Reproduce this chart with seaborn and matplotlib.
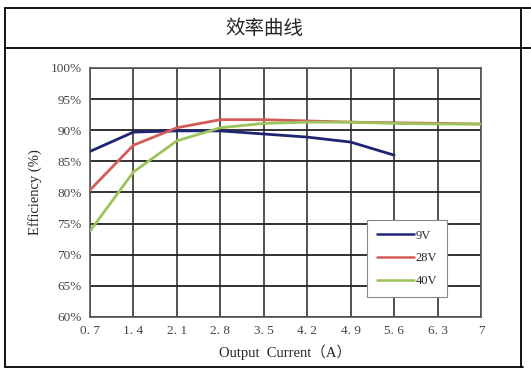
import numpy as np
import pandas as pd
import seaborn as sns
import matplotlib.pyplot as plt
from matplotlib.lines import Line2D

# values
current = [0.7, 1.4, 2.1, 2.8, 3.5, 4.2, 4.9, 5.6, 6.3, 7.0]
eff_9v = [86.6, 89.7, 89.9, 89.9, 89.4, 88.9, 88.1, 86.0]
eff_28v = [80.4, 87.6, 90.4, 91.7, 91.7, 91.5, 91.3, 91.2, 91.1, 91.0]
eff_40v = [73.8, 83.3, 88.3, 90.4, 91.1, 91.3, 91.3, 91.1, 91.0, 91.0]
series = ["9V", "28V", "40V"]
colors = ["#1e2673", "#d45c58", "#9cc35c"]
x_labels = ["0. 7", "1. 4", "2. 1", "2. 8", "3. 5", "4. 2", "4. 9", "5. 6", "6. 3", "7"]
y_ticks = [60, 65, 70, 75, 80, 85, 90, 95, 100]

rows = []
for name, vals in zip(series, [eff_9v, eff_28v, eff_40v]):
    for c, v in zip(current, vals):
        rows.append({"current": c, "eff": v, "series": name})
df = pd.DataFrame(rows)

sns.set_style("white")
plt.rcParams['font.family'] = ['Liberation Serif', 'Noto Sans CJK SC', 'DejaVu Sans']

fig = plt.figure(figsize=(5.31, 3.72), dpi=100)
W, H = 531, 372
ax = fig.add_axes([90 / W, 1 - 317 / H, (481 - 90) / W, (317 - 68) / H])

# grid first so the curves sit on top
for t in current:
    ax.axvline(t, color="#222222", lw=1.1, zorder=1)
for t in y_ticks:
    ax.axhline(t, color="#222222", lw=1.3, zorder=1)

sns.lineplot(data=df, x="current", y="eff", hue="series", hue_order=series,
             palette=colors, lw=2, ax=ax, zorder=3)

ax.set_xlim(0.7, 7.0)
ax.set_ylim(60, 100)
ax.set_xticks(current)
ax.set_xticklabels(x_labels)
ax.set_yticks(y_ticks)
ax.set_yticklabels([f"{t}%" for t in y_ticks])
ax.tick_params(axis="both", length=0, labelsize=9.5, colors="#444444", pad=6)
for s in ax.spines.values():
    s.set_color("#555555")
    s.set_linewidth(1.2)
ax.set_xlabel("Output  Current\uff08A\uff09", fontsize=10.5, labelpad=5)
ax.set_ylabel("Efficiency (%)", fontsize=10.5, labelpad=6)

leg = ax.legend(loc="lower right", bbox_to_anchor=((447 - 90) / (481 - 90), (317 - 297) / (317 - 68)),
                borderaxespad=0, frameon=True, fancybox=False, fontsize=9,
                handlelength=3.0, labelspacing=0.85, borderpad=0.8,
                handletextpad=0.1, title=None)
leg.get_frame().set_edgecolor("#888888")
leg.get_frame().set_linewidth(0.8)
leg.get_frame().set_facecolor("white")
leg.get_frame().set_alpha(1)
for h in leg.get_lines():
    h.set_linewidth(1.8)

# table-like border around the chart
def fline(x0, y0, x1, y1, lw=1.3):
    fig.add_artist(Line2D([x0 / W, x1 / W], [1 - y0 / H, 1 - y1 / H],
                          color="black", lw=lw))

fline(5, 8, 531, 8)
fline(5, 48, 531, 48)
fline(5, 367, 523, 367)
fline(5, 8, 5, 367)
fline(521, 8, 521, 367)

fig.text(264 / W, 1 - 28 / H, "效率曲线", ha="center", va="center",
         fontsize=14, family=['Noto Sans CJK SC', 'DejaVu Sans'])

fig.savefig("out.png", dpi=100)
